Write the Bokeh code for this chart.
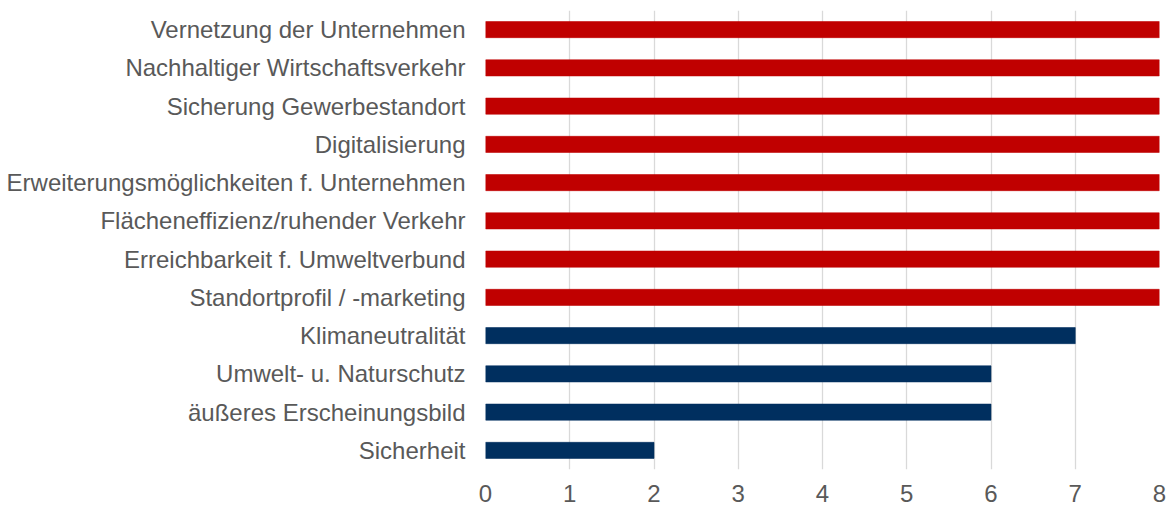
from bokeh.plotting import figure
from bokeh.models import Range1d, FactorRange, ColumnDataSource, FixedTicker
from bokeh.embed import file_html
from bokeh.resources import INLINE

categories = [
    "Vernetzung der Unternehmen",
    "Nachhaltiger Wirtschaftsverkehr",
    "Sicherung Gewerbestandort",
    "Digitalisierung",
    "Erweiterungsmöglichkeiten f. Unternehmen",
    "Flächeneffizienz/ruhender Verkehr",
    "Erreichbarkeit f. Umweltverbund",
    "Standortprofil / -marketing",
    "Klimaneutralität",
    "Umwelt- u. Naturschutz",
    "äußeres Erscheinungsbild",
    "Sicherheit",
]
values = [8, 8, 8, 8, 8, 8, 8, 8, 7, 6, 6, 2]
groups = ["hoch"] * 8 + ["niedrig"] * 4
x_ticks = [0, 1, 2, 3, 4, 5, 6, 7, 8]

color_map = {"hoch": "#C00000", "niedrig": "#002F5F"}
colors = [color_map[g] for g in groups]

source = ColumnDataSource(dict(cat=categories, val=values, color=colors))

p = figure(
    width=1168, height=506,
    y_range=FactorRange(factors=list(reversed(categories))),
    x_range=Range1d(0, 8),
    output_backend="svg", toolbar_location=None,
    min_border_left=485, min_border_right=9, min_border_top=10, min_border_bottom=37,
)
p.hbar(y="cat", right="val", left=0, height=0.42, color="color",
       line_color="color", line_alpha=0.6, source=source)

p.outline_line_color = None
p.ygrid.grid_line_color = None
p.xgrid.grid_line_color = "#D9D9D9"
p.xgrid.grid_line_width = 1.3
p.xaxis.ticker = FixedTicker(ticks=x_ticks)
p.xaxis.axis_line_color = None
p.xaxis.major_tick_line_color = None
p.xaxis.minor_tick_line_color = None
p.xaxis.major_label_text_font = "Liberation Sans"
p.xaxis.major_label_text_font_size = "24px"
p.xaxis.major_label_text_color = "#595959"
p.xaxis.major_label_standoff = 9

p.yaxis.axis_line_color = None
p.yaxis.major_tick_line_color = None
p.yaxis.minor_tick_line_color = None
p.yaxis.major_label_text_font = "Liberation Sans"
p.yaxis.major_label_text_font_size = "24px"
p.yaxis.major_label_text_color = "#595959"
p.yaxis.major_label_standoff = 14

open("out.html", "w").write(file_html(p, INLINE))
